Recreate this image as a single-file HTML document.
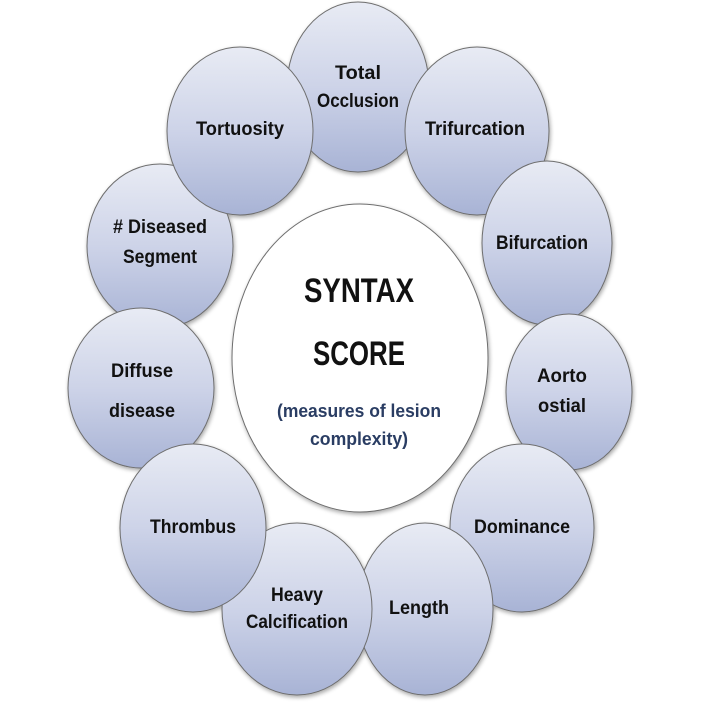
<!DOCTYPE html>
<html><head><meta charset="utf-8"><style>
html,body{margin:0;padding:0;background:#fff;}
svg{display:block;}
text{font-family:"Liberation Sans",sans-serif;fill:#111;}
</style></head><body>
<svg width="709" height="704" viewBox="0 0 709 704" xmlns="http://www.w3.org/2000/svg">
<defs>
<linearGradient id="g" x1="0" y1="0" x2="0" y2="1">
<stop offset="0" stop-color="#e8ebf4"/>
<stop offset="0.5" stop-color="#cdd3e8"/>
<stop offset="1" stop-color="#a8b3d5"/>
</linearGradient>
<filter id="s" x="-20%" y="-20%" width="140%" height="140%">
<feGaussianBlur in="SourceAlpha" stdDeviation="2"/>
<feOffset dx="1" dy="2"/>
<feComponentTransfer><feFuncA type="linear" slope="0.35"/></feComponentTransfer>
<feMerge><feMergeNode/><feMergeNode in="SourceGraphic"/></feMerge>
</filter>
</defs>
<g stroke="#6e6e6e" stroke-width="1" fill="url(#g)" filter="url(#s)">
<ellipse cx="358" cy="87" rx="71" ry="85"/>
<ellipse cx="477" cy="131" rx="72" ry="84"/>
<ellipse cx="160" cy="246" rx="73" ry="82"/>
<ellipse cx="240" cy="131" rx="73" ry="84"/>
<ellipse cx="547" cy="243" rx="65" ry="82"/>
<ellipse cx="141" cy="388" rx="73" ry="80"/>
<ellipse cx="569" cy="392" rx="63" ry="78"/>
<ellipse cx="522" cy="528" rx="72" ry="84"/>
<ellipse cx="425" cy="609" rx="68" ry="86"/>
<ellipse cx="297" cy="609" rx="75" ry="86"/>
<ellipse cx="193" cy="528" rx="73" ry="84"/>
</g>
<ellipse cx="360" cy="358" rx="128" ry="154" fill="#fff" stroke="#6e6e6e" stroke-width="1" filter="url(#s)"/>
<g font-size="19" text-anchor="middle" font-weight="bold" style="fill:#1a1a1a">
<text x="358" y="79" textLength="46" lengthAdjust="spacingAndGlyphs">Total</text>
<text x="358" y="107" textLength="82" lengthAdjust="spacingAndGlyphs">Occlusion</text>
<text x="240" y="135" textLength="88" lengthAdjust="spacingAndGlyphs">Tortuosity</text>
<text x="475" y="135" textLength="100" lengthAdjust="spacingAndGlyphs">Trifurcation</text>
<text x="542" y="249" textLength="92" lengthAdjust="spacingAndGlyphs">Bifurcation</text>
<text x="160" y="233" textLength="94" lengthAdjust="spacingAndGlyphs"># Diseased</text>
<text x="160" y="263" textLength="74" lengthAdjust="spacingAndGlyphs">Segment</text>
<text x="142" y="377" textLength="62" lengthAdjust="spacingAndGlyphs">Diffuse</text>
<text x="142" y="417" textLength="66" lengthAdjust="spacingAndGlyphs">disease</text>
<text x="562" y="382" textLength="50" lengthAdjust="spacingAndGlyphs">Aorto</text>
<text x="562" y="412" textLength="48" lengthAdjust="spacingAndGlyphs">ostial</text>
<text x="193" y="533" textLength="86" lengthAdjust="spacingAndGlyphs">Thrombus</text>
<text x="522" y="533" textLength="96" lengthAdjust="spacingAndGlyphs">Dominance</text>
<text x="297" y="601" textLength="52" lengthAdjust="spacingAndGlyphs">Heavy</text>
<text x="297" y="628" textLength="102" lengthAdjust="spacingAndGlyphs">Calcification</text>
<text x="419" y="614" textLength="60" lengthAdjust="spacingAndGlyphs">Length</text>
</g>
<g text-anchor="middle" font-weight="bold">
<text x="359" y="302" font-size="34" textLength="110" lengthAdjust="spacingAndGlyphs">SYNTAX</text>
<text x="359" y="365" font-size="34" textLength="92" lengthAdjust="spacingAndGlyphs">SCORE</text>
<text x="359" y="417" font-size="18" style="fill:#2a3d63" textLength="164" lengthAdjust="spacingAndGlyphs">(measures of lesion</text>
<text x="359" y="445" font-size="18" style="fill:#2a3d63" textLength="98" lengthAdjust="spacingAndGlyphs">complexity)</text>
</g>
</svg>
</body></html>
